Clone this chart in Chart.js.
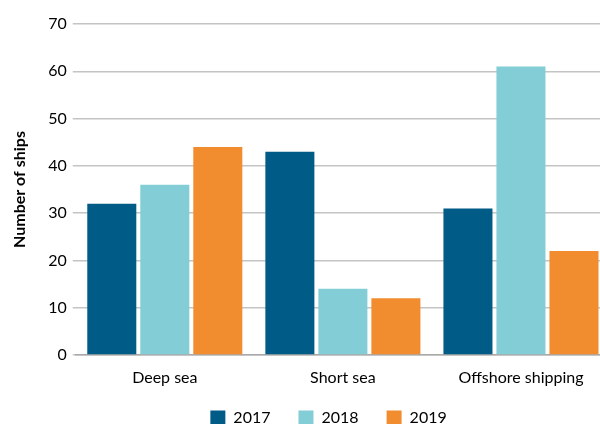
<!DOCTYPE html>
<html><head><meta charset="utf-8">
<script src="https://cdn.jsdelivr.net/npm/chart.js@4.4.0/dist/chart.umd.min.js"></script>
<style>
html,body{margin:0;padding:0;background:#fff;overflow:hidden;width:600px;height:424px}
#wrap{width:610px;height:424px;position:relative}
</style></head>
<body><div id="wrap"><canvas id="c"></canvas></div>
<script>
const categories = ["Deep sea", "Short sea", "Offshore shipping"];
const seriesNames = ["2017", "2018", "2019"];
const values2017 = [32, 43, 31];
const values2018 = [36, 14, 61];
const values2019 = [44, 12, 22];
const colors = ["#005b86", "#83cdd6", "#f18c2f"];
const FONT = "Lato, 'Open Sans', sans-serif";

const unclipX = {
  id: 'unclipX',
  afterLayout(chart) { chart.scales.x.bottom = chart.height; }
};

new Chart(document.getElementById('c'), {
  type: 'bar',
  data: {
    labels: categories,
    datasets: [values2017, values2018, values2019].map((v, i) => ({
      label: seriesNames[i], data: v, backgroundColor: colors[i],
      barPercentage: 0.925, categoryPercentage: 0.893
    }))
  },
  plugins: [unclipX],
  options: {
    responsive: true, maintainAspectRatio: false, animation: false,
    layout: { padding: { top: 24, left: 6, right: 0, bottom: 0 } },
    plugins: {
      tooltip: { enabled: false },
      legend: {
        position: 'bottom', fullSize: false, maxHeight: 42,
        labels: { boxWidth: 15, boxHeight: 15, padding: 28, color: '#000',
          font: { family: FONT, size: 16 },
          generateLabels: (chart) => {
            const items = Chart.defaults.plugins.legend.labels.generateLabels(chart);
            items[items.length - 1].text += '\u00A0'.repeat(7);
            return items;
          } }
      }
    },
    scales: {
      x: {
        grid: { display: false, drawTicks: false },
        border: { display: true, color: '#aaa', width: 1.5 },
        ticks: { color: '#000', font: { family: FONT, size: 16 }, padding: 13 },
        afterFit: (scale) => { scale.height = 27; }
      },
      y: {
        min: 0, max: 70,
        ticks: { stepSize: 10, color: '#000', font: { family: FONT, size: 16 }, padding: 6 },
        grid: { color: '#c4c4c4', lineWidth: 1.5, tickLength: 3, tickColor: '#c4c4c4' },
        border: { display: false },
        title: { display: true, text: 'Number of ships', color: '#000',
          font: { family: FONT, size: 16, weight: 'bold' }, padding: { top: 4, bottom: 13 } }
      }
    }
  }
});
</script></body></html>
